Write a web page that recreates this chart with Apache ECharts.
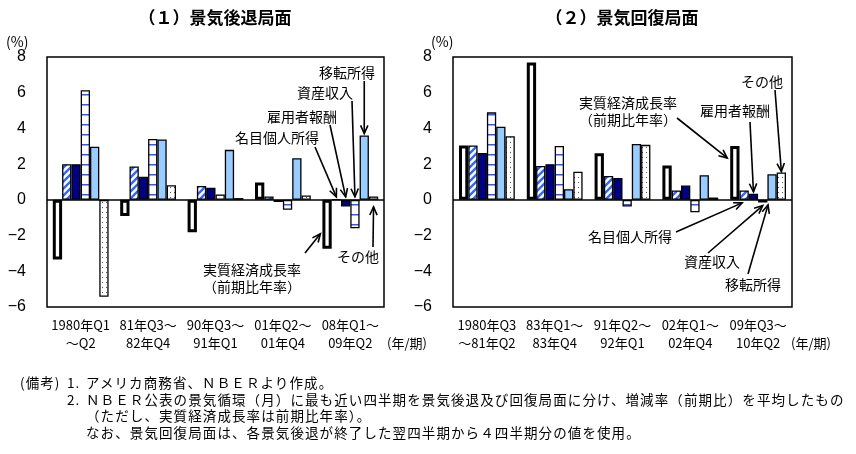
<!DOCTYPE html>
<html>
<head>
<meta charset="utf-8">
<script src="https://cdn.jsdelivr.net/npm/echarts@6/dist/echarts.min.js"></script>
<style>
  html, body { margin: 0; padding: 0; background: #fff; }
  #wrap { position: relative; width: 856px; height: 454px; }
  #main { width: 856px; height: 454px; }
  .note { position: absolute; font-family: 'Noto Sans CJK JP', sans-serif; font-size: 13.5px; line-height: 16px;
          letter-spacing: 1.1px; color: #000; white-space: nowrap; }
</style>
</head>
<body>
<div id="wrap">
  <div id="main"></div>
  <div class="note" style="left:20px; top:374px;">(備考)</div>
  <div class="note" style="left:67px; top:374px;">1.</div>
  <div class="note" style="left:86px; top:374px;">アメリカ商務省、ＮＢＥＲより作成。</div>
  <div class="note" style="left:67px; top:391px;">2.</div>
  <div class="note" style="left:86px; top:391px;">ＮＢＥＲ公表の景気循環（月）に最も近い四半期を景気後退及び回復局面に分け、増減率（前期比）を平均したもの</div>
  <div class="note" style="left:86px; top:407px;">（ただし、実質経済成長率は前期比年率）。</div>
  <div class="note" style="left:86px; top:424px;">なお、景気回復局面は、各景気後退が終了した翌四半期から４四半期分の値を使用。</div>
</div>
<script>
// 系列名
var seriesNames = ['実質経済成長率（前期比年率）', '名目個人所得', '雇用者報酬', '資産収入', '移転所得', 'その他'];

// （１）景気後退局面
var recessionCats = ['1980年Q1\n～Q2', '81年Q3～\n82年Q4', '90年Q3～\n91年Q1', '01年Q2～\n01年Q4', '08年Q1～\n09年Q2'];
var recReal     = [-3.34, -0.9, -1.81, 0.97, -2.74];
var recNominal  = [2.0, 1.87, 0.78, 0.19, 0.03];
var recEmployee = [2.0, 1.29, 0.68, -0.12, -0.37];
var recAsset    = [6.14, 3.41, 0.3, -0.56, -1.59];
var recTransfer = [2.97, 3.38, 2.8, 2.33, 3.6];
var recOther    = [-5.43, 0.82, 0.1, 0.24, 0.19];

// （２）景気回復局面
var recoveryCats = ['1980年Q3\n～81年Q2', '83年Q1～\n83年Q4', '91年Q2～\n92年Q1', '02年Q1～\n02年Q4', '09年Q3～\n10年Q2'];
var recoReal     = [3.04, 7.69, 2.61, 1.93, 3.02];
var recoNominal  = [3.04, 1.9, 1.34, 0.52, 0.53];
var recoEmployee = [2.63, 2.0, 1.23, 0.8, 0.34];
var recoAsset    = [4.9, 3.02, -0.37, -0.69, -0.15];
var recoTransfer = [4.09, 0.6, 3.13, 1.38, 1.43];
var recoOther    = [3.56, 1.57, 3.08, 0.13, 1.53];

// y軸
var yMin = -6, yMax = 8, yStep = 2;

var chart = echarts.init(document.getElementById('main'));

// 模様（パターン）を作る
function makePattern(w, h, draw) {
    var c = document.createElement('canvas');
    c.width = w; c.height = h;
    var ctx = c.getContext('2d');
    ctx.fillStyle = '#fff';
    ctx.fillRect(0, 0, w, h);
    draw(ctx, w, h);
    return { image: c, repeat: 'repeat' };
}
var diagFill = makePattern(7, 7, function (ctx, w, h) {
    ctx.strokeStyle = '#3366ff';
    ctx.lineWidth = 2.4;
    ctx.beginPath();
    ctx.moveTo(-1, 1); ctx.lineTo(1, -1);
    ctx.moveTo(0, h); ctx.lineTo(w, 0);
    ctx.moveTo(w - 1, h + 1); ctx.lineTo(w + 1, h - 1);
    ctx.stroke();
});
var hLineFill = makePattern(9, 10, function (ctx, w, h) {
    ctx.fillStyle = '#3355ff';
    ctx.fillRect(0, 4, w, 1.5);
});
var dotFill = makePattern(4, 5, function (ctx) {
    ctx.fillStyle = '#555';
    ctx.fillRect(2, 2, 1, 1);
});

var fills = ['#ffffff', diagFill, '#000080', hLineFill, '#99ccff', dotFill];
var borders = [3, 1.3, 1.3, 1.3, 1.3, 1.3];

var BAR_W = 9.3;

function makeSeries(gi, lists) {
    return lists.map(function (vals, i) {
        var s = {
            name: seriesNames[i],
            type: 'bar',
            xAxisIndex: gi,
            yAxisIndex: gi,
            barWidth: BAR_W,
            barGap: '0%',
            data: vals,
            itemStyle: { color: fills[i], borderColor: '#000', borderWidth: borders[i] },
            emphasis: { disabled: true }
        };
        if (i === 0) {
            // 0 の横線
            s.markLine = {
                silent: true, symbol: 'none', label: { show: false },
                lineStyle: { color: '#000', width: 1.5, type: 'solid' },
                data: [{ yAxis: 0 }]
            };
        }
        return s;
    });
}

var grids = [
    { left: 47, top: 57, width: 337, height: 250 },
    { left: 453, top: 57, width: 339, height: 250 }
];

function xAxisOf(gi, cats) {
    return {
        type: 'category', gridIndex: gi, data: cats,
        axisLine: { onZero: false, show: false },
        axisTick: { show: false },
        axisLabel: { margin: 9, fontSize: 13, lineHeight: 18, color: '#000', fontFamily: 'Noto Sans CJK JP', interval: 0 }
    };
}
function yAxisOf(gi) {
    return {
        type: 'value', gridIndex: gi, min: yMin, max: yMax, interval: yStep,
        axisLine: { show: false }, axisTick: { show: false }, splitLine: { show: false },
        axisLabel: {
            margin: 21, fontSize: 16, color: '#000', fontFamily: 'Liberation Sans Narrow, Liberation Sans',
            formatter: function (v) { return String(v).replace('-', '−'); }
        }
    };
}

var option = {
    animation: false,
    grid: grids.map(function (g) {
        return Object.assign({ show: true, borderColor: '#000', borderWidth: 1.5, backgroundColor: 'transparent' }, g);
    }),
    xAxis: [xAxisOf(0, recessionCats), xAxisOf(1, recoveryCats)],
    yAxis: [yAxisOf(0), yAxisOf(1)],
    series: makeSeries(0, [recReal, recNominal, recEmployee, recAsset, recTransfer, recOther])
        .concat(makeSeries(1, [recoReal, recoNominal, recoEmployee, recoAsset, recoTransfer, recoOther]))
};
chart.setOption(option);

// 注釈用：棒の位置
function barPt(gi, cat, si, val) {
    var p = chart.convertToPixel({ gridIndex: gi }, [cat, val]);
    return [p[0] + (si - 2.5) * BAR_W, p[1]];
}

function arrow(x1, y1, x2, y2) {
    var ang = Math.atan2(y2 - y1, x2 - x1), L = 9, a = 0.42;
    return [
        { type: 'line', shape: { x1: x1, y1: y1, x2: x2, y2: y2 }, style: { stroke: '#000', lineWidth: 1.6 }, silent: true },
        { type: 'polyline', shape: { points: [
            [x2 - L * Math.cos(ang - a), y2 - L * Math.sin(ang - a)], [x2, y2],
            [x2 - L * Math.cos(ang + a), y2 - L * Math.sin(ang + a)] ] },
          style: { stroke: '#000', lineWidth: 1.6, fill: null }, silent: true }
    ];
}
function txt(x, y, s, opt) {
    opt = opt || {};
    return { type: 'text', x: x, y: y, silent: true, style: {
        text: s, fill: '#000', fontSize: opt.size || 14, fontWeight: opt.weight || 'normal',
        fontFamily: 'Noto Sans CJK JP', align: opt.align || 'left', verticalAlign: 'middle', lineHeight: opt.lh || 17
    } };
}

var g = [];
// タイトル
g.push(txt(215, 18, '（１）景気後退局面', { size: 17, weight: 'bold', align: 'center' }));
g.push(txt(622, 18, '（２）景気回復局面', { size: 17, weight: 'bold', align: 'center' }));
g.push(txt(6, 42, '(%)', { size: 14 }));
g.push(txt(431, 42, '(%)', { size: 14 }));
g.push(txt(387, 343, '(年/期)', { size: 13 }));
g.push(txt(791, 343, '(年/期)', { size: 13 }));

// 左パネルの注釈
var p;
p = barPt(0, 4, 4, recTransfer[4]);
g.push(txt(347, 73, '移転所得', { align: 'center' }));
g = g.concat(arrow(p[0], 81, p[0], p[1] - 2));
p = barPt(0, 4, 3, 0);
g.push(txt(325, 93, '資産収入', { align: 'center' }));
g = g.concat(arrow(352, 101, p[0], p[1] - 3));
p = barPt(0, 4, 2, 0);
g.push(txt(302, 117, '雇用者報酬', { align: 'center' }));
g = g.concat(arrow(330, 125, p[0], p[1] - 3));
p = barPt(0, 4, 1, 0);
g.push(txt(277, 138, '名目個人所得', { align: 'center' }));
g = g.concat(arrow(315, 147, p[0], p[1] - 3));
p = barPt(0, 4, 0, -1.9);
g.push(txt(252, 278, '実質経済成長率\n（前期比年率）', { align: 'center' }));
g = g.concat(arrow(305, 253, p[0] - BAR_W / 2 - 2, p[1]));
p = barPt(0, 4, 5, 0);
g.push(txt(358, 257, 'その他', { align: 'center' }));
g = g.concat(arrow(373, 247, p[0], p[1] + 7));

// 右パネルの注釈
p = barPt(1, 4, 0, recoReal[4]);
g.push(txt(628, 111, '実質経済成長率\n（前期比年率）', { align: 'center' }));
g = g.concat(arrow(677, 118, p[0] - BAR_W / 2 - 3, p[1] + 12));
p = barPt(1, 4, 2, recoEmployee[4]);
g.push(txt(735, 111, '雇用者報酬', { align: 'center' }));
g = g.concat(arrow(750, 122, p[0], p[1] - 2));
p = barPt(1, 4, 5, recoOther[4]);
g.push(txt(762, 82, 'その他', { align: 'center' }));
g = g.concat(arrow(775, 90, p[0], p[1] - 1));
p = barPt(1, 4, 1, 0);
g.push(txt(630, 237, '名目個人所得', { align: 'center' }));
g = g.concat(arrow(676, 232, p[0] - 2, p[1] + 3));
p = barPt(1, 4, 3, recoAsset[4]);
g.push(txt(712, 262, '資産収入', { align: 'center' }));
g = g.concat(arrow(708, 253, p[0], p[1] + 3));
p = barPt(1, 4, 4, 0);
g.push(txt(753, 285, '移転所得', { align: 'center' }));
g = g.concat(arrow(748, 274, p[0] - 4, p[1] + 5));

chart.setOption({ graphic: g });
</script>
</body>
</html>
